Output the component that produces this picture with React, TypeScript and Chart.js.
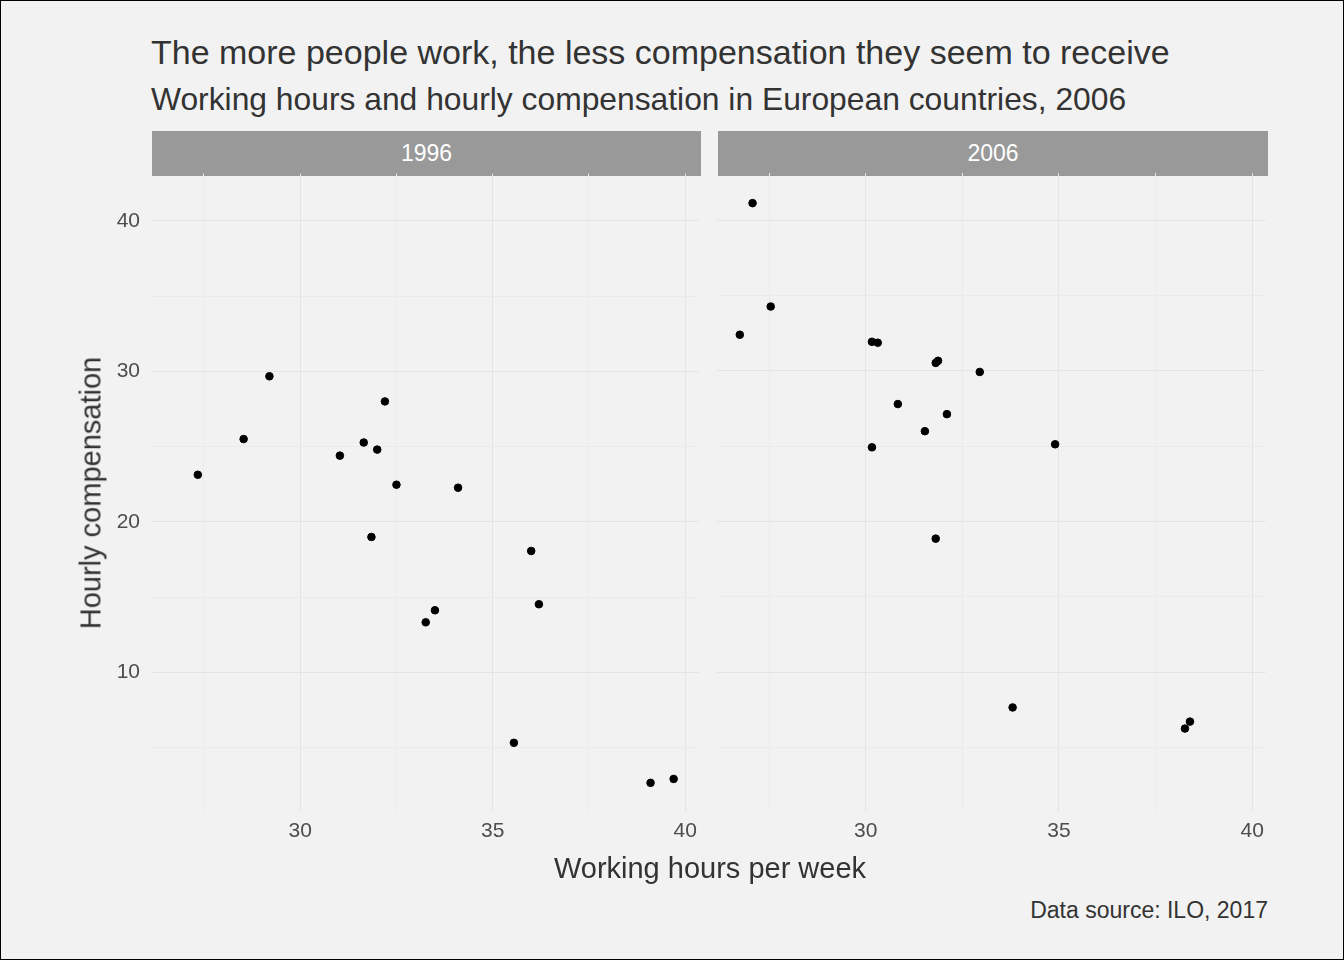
import React, { useEffect, useRef } from 'react';
import Chart from 'chart.js/auto';

const hours1996 = [27.34, 28.53, 29.2, 31.03, 31.65, 32.0, 32.2, 32.5, 31.85, 34.1, 33.26, 33.5, 36.0, 36.2, 35.55, 39.1, 39.7];
const comp1996 = [23.13, 25.5, 29.67, 24.4, 25.27, 24.8, 28.0, 22.47, 19.0, 22.27, 13.33, 14.13, 18.07, 14.53, 5.33, 2.67, 2.93];
const hours2006 = [27.07, 26.74, 27.54, 30.16, 30.31, 30.83, 30.16, 31.53, 31.81, 31.87, 32.1, 32.95, 31.81, 34.9, 33.8, 38.26, 38.39];
const comp2006 = [41.13, 32.4, 34.27, 31.93, 31.87, 27.8, 24.93, 26.0, 30.53, 30.67, 27.13, 29.93, 18.87, 25.13, 7.67, 6.27, 6.73];
const xTicks = [27.5, 30, 32.5, 35, 37.5, 40];
const yTicks = [5, 10, 15, 20, 25, 30, 35, 40];

const FONT = '"Liberation Sans", Arial, sans-serif';

const Panel: React.FC<{ xs: number[]; ys: number[]; showY: boolean; w: number; h: number }> = ({ xs, ys, showY, w, h }) => {
  const ref = useRef<HTMLCanvasElement>(null);
  useEffect(() => {
    if (!ref.current) return;
    const chart = new Chart(ref.current, {
      type: 'scatter',
      data: {
        datasets: [{
          data: xs.map((x, i) => ({ x, y: ys[i] })),
          backgroundColor: '#000',
          borderColor: '#000',
          pointRadius: 3.8,
        }],
      },
      options: {
        animation: false,
        responsive: false,
        layout: { padding: 0 },
        plugins: { legend: { display: false }, tooltip: { enabled: false } },
        scales: {
          x: {
            type: 'linear', min: 26.15, max: 40.35,
            afterBuildTicks: (s: any) => { s.ticks = xTicks.map((v) => ({ value: v })); },
            afterFit: (s: any) => { s.height = 40; },
            border: { display: false },
            grid: {
              drawTicks: false,
              color: (c: any) => (c.tick && c.tick.value % 5 === 0 ? '#e4e4e4' : '#ebebeb'),
            },
            ticks: {
              padding: 8, color: '#4d4d4d', font: { family: FONT, size: 21 },
              callback: (v: any) => (v % 5 === 0 ? String(v) : ''),
              maxRotation: 0, autoSkip: false,
            },
          },
          y: {
            type: 'linear', min: 0.8, max: 43.13,
            afterBuildTicks: (s: any) => { s.ticks = yTicks.map((v) => ({ value: v })); },
            afterFit: (s: any) => { s.width = showY ? 61 : 0; },
            border: { display: false },
            grid: {
              drawTicks: false,
              color: (c: any) => (c.tick && c.tick.value % 10 === 0 ? '#e4e4e4' : '#ebebeb'),
            },
            ticks: {
              display: showY, padding: 12, color: '#4d4d4d', font: { family: FONT, size: 21 },
              callback: (v: any) => (v % 10 === 0 ? String(v) : ''), autoSkip: false,
            },
          },
        },
      },
    });
    return () => chart.destroy();
  }, [xs, ys, showY]);
  return <canvas ref={ref} width={w} height={h} />;
};

const abs = (l: number, t: number, extra: React.CSSProperties = {}): React.CSSProperties => ({
  position: 'absolute', left: l, top: t, ...extra,
});

export default function App() {
  return (
    <div style={{ position: 'fixed', left: 0, top: 0, width: 1344, height: 960, background: '#f2f2f2', boxSizing: 'border-box', border: '1px solid #000', fontFamily: FONT, color: '#333' }}>
      <div style={abs(150, 31, { fontSize: 34, lineHeight: '40px', whiteSpace: 'nowrap' })}>The more people work, the less compensation they seem to receive</div>
      <div style={abs(150, 79, { fontSize: 31.8, lineHeight: '38px', whiteSpace: 'nowrap' })}>Working hours and hourly compensation in European countries, 2006</div>
      <div style={abs(151, 130, { width: 549, height: 45, background: '#999', color: '#fff', fontSize: 23, lineHeight: '45px', textAlign: 'center' })}>1996</div>
      <div style={abs(717, 130, { width: 550, height: 45, background: '#999', color: '#fff', fontSize: 23, lineHeight: '45px', textAlign: 'center' })}>2006</div>
      <div style={abs(90, 148)}><Panel xs={hours1996} ys={comp1996} showY={true} w={614} h={702} /></div>
      <div style={abs(711, 167)}><Panel xs={hours2006} ys={comp2006} showY={false} w={560} h={683} /></div>
      <div style={abs(90, 492, { width: 0, height: 0 })}>
        <div style={{ position: 'absolute', left: 0, top: 0, transform: 'translate(-50%,-50%) rotate(-90deg)', whiteSpace: 'nowrap', fontSize: 29 }}>Hourly compensation</div>
      </div>
      <div style={abs(151, 849, { width: 1116, textAlign: 'center', fontSize: 29, lineHeight: '36px' })}>Working hours per week</div>
      <div style={abs(767, 894, { width: 500, textAlign: 'right', fontSize: 23, lineHeight: '30px' })}>Data source: ILO, 2017</div>
    </div>
  );
}
